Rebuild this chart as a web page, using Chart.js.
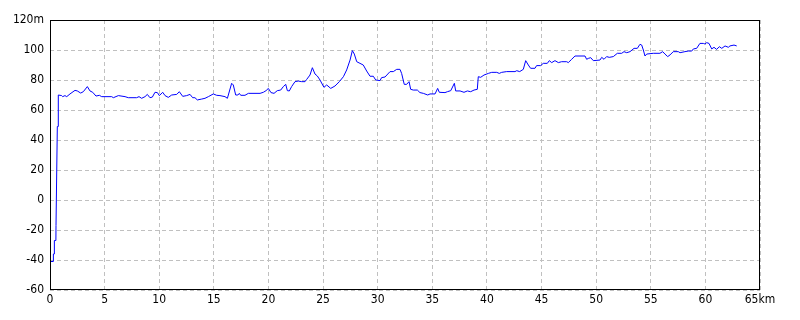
<!DOCTYPE html>
<html>
<head>
<meta charset="utf-8">
<script src="https://cdn.jsdelivr.net/npm/chart.js@4/dist/chart.umd.min.js"></script>
<style>
html,body{margin:0;padding:0;background:#fff;}
#c{display:block;}
</style>
</head>
<body>
<canvas id="c" width="800" height="320"></canvas>
<script>
// Distance along route (km)
const distanceKm = [
  0, 0.3, 0.31, 0.39, 0.4, 0.54, 0.55, 0.61, 0.67, 0.74, 0.76,
  1.07, 1.16, 1.37, 1.53, 1.83, 2.29, 2.5, 2.81, 3.05, 3.42, 3.66, 3.91, 4.21, 4.52, 4.73,
  5.65, 5.8, 6.26, 6.87, 7.17, 7.93, 8.15, 8.39, 8.7, 8.91, 9.15, 9.37, 9.61, 9.83,
  10.01, 10.32, 10.53, 10.83, 11.14, 11.6, 11.84, 12.15, 12.51, 12.82, 13.06, 13.27, 13.49, 13.89,
  14.19, 14.5, 14.95, 15.26, 15.56, 16.02, 16.24, 16.63, 16.78, 17.0, 17.2, 17.33, 17.46, 17.85,
  18.16, 19.23, 19.53, 19.78, 19.99, 20.23, 20.51, 20.81, 21.12, 21.36, 21.58, 21.73, 21.91,
  22.12, 22.43, 22.73, 23.04, 23.35, 23.5, 23.8, 24.02, 24.26, 24.47, 24.72, 25.08, 25.33,
  25.7, 26.09, 26.49, 26.86, 27.16, 27.47, 27.68, 27.86, 28.08, 28.38, 28.68, 28.99, 29.3,
  29.6, 29.82, 30.21, 30.36, 30.67, 31.13, 31.43, 31.74, 32.04, 32.19, 32.43, 32.65, 32.87,
  33.02, 33.26, 33.63, 33.87, 34.18, 34.58, 34.79, 35.25, 35.49, 35.64, 36.16, 36.38, 36.69,
  37.02, 37.14, 37.54, 37.9, 38.21, 38.51, 38.82, 39.12, 39.21, 39.43, 39.73, 40.13, 40.44,
  40.9, 41.13, 41.35, 41.81, 42.57, 42.73, 43.0, 43.33, 43.55, 43.79, 44.0, 44.4, 44.55,
  44.92, 45.16, 45.53, 45.71, 45.93, 46.23, 46.54, 46.84, 47.3, 47.45, 47.76, 48.06, 48.98,
  49.13, 49.28, 49.5, 49.74, 50.35, 50.51, 50.72, 50.96, 51.2, 51.57, 51.94, 52.34, 52.55,
  52.8, 53.1, 53.47, 53.77, 54.01, 54.17, 54.32, 54.47, 54.63, 55.23, 55.84, 56.09, 56.3,
  56.55, 56.76, 57.06, 57.52, 57.68, 58.13, 58.44, 58.75, 58.9, 59.2, 59.5, 59.81, 59.96,
  60.12, 60.33, 60.58, 60.79, 61.03, 61.28, 61.5, 61.8, 62.1, 62.25, 62.62, 62.87
];
// Elevation (m)
const elevationM = [
  -41, -41, -36, -36, -27, -27, -17, -17, 49, 49, 70,
  69.6, 68.9, 69.6, 68.9, 70.7, 73.1, 72.7, 71.3, 72.2, 75.6, 72.7, 71.8, 69.3, 69.8, 68.9,
  68.9, 68.2, 69.6, 68.9, 68.2, 68.2, 68.9, 67.8, 68.9, 70.4, 68.2, 68.6, 71.8, 71.6,
  69.6, 71.8, 69.6, 68.4, 70, 70.4, 72.2, 69.1, 69.6, 70.4, 68.2, 68.2, 66.7, 67.3,
  67.8, 68.9, 70.7, 69.8, 69.6, 68.9, 67.8, 77.8, 76.7, 70, 70, 71.1, 69.8, 69.8,
  71.1, 71.1, 71.8, 72.9, 74.4, 71.6, 71.1, 72.9, 73.3, 75.6, 77.1, 72.9, 72.7,
  75.6, 78.9, 79.3, 78.9, 78.9, 80.4, 83.3, 88.2, 84, 82.7, 80, 75.1, 76.7,
  74.4, 76, 78.9, 82.2, 86.7, 93.3, 99.6, 97.3, 92.2, 91.1, 90, 86, 82.5,
  82.5, 80, 79.6, 81.6, 82, 85.6, 85.6, 87.1, 87.1, 84.4, 77.1, 77.1, 78.9,
  73.8, 73.3, 73.3, 71.6, 71.1, 70, 70.7, 70.7, 74.4, 71.8, 71.6, 72.2, 72.9,
  77.8, 72.7, 72.7, 71.8, 72.7, 72.2, 73.3, 73.8, 82.2, 81.8, 83.3, 84.4, 85.1,
  85.1, 84.4, 85.1, 85.6, 85.6, 86.2, 85.6, 87.1, 92.9, 90, 87.8, 87.8, 89.6,
  89.6, 91.1, 91.1, 92.9, 91.6, 92.9, 91.6, 92.2, 92.2, 91.6, 93.8, 96, 96,
  93.8, 94.4, 94.9, 92.9, 93.3, 95.1, 93.8, 95.6, 95.1, 95.6, 97.8, 97.8, 98.9,
  98.2, 98.9, 101.1, 101.1, 103.8, 103.3, 100, 96, 97.3, 97.8, 97.8, 98.9, 97.3,
  95.6, 96.7, 98.9, 98.9, 98.2, 98.9, 99.3, 99.3, 100.7, 101.1, 104.4, 104.4, 104,
  104.9, 104.4, 100.7, 101.8, 100.4, 102.2, 101.1, 102.7, 101.8, 102.7, 103.3, 102.7
];
// Axis ranges and ticks
const xTicks = [0, 5, 10, 15, 20, 25, 30, 35, 40, 45, 50, 55, 60, 65];
const yTicks = [-60, -40, -20, 0, 20, 40, 60, 80, 100, 120];
const xUnit = 'km';
const yUnit = 'm';

const points = distanceKm.map((d, i) => ({x: d, y: elevationM[i]}));
const FONT = '"Liberation Sans Narrow", "DejaVu Sans Condensed", "Liberation Sans", sans-serif';

const framePlugin = {
  id: 'frame',
  afterDraw(chart) {
    const a = chart.chartArea, ctx = chart.ctx;
    ctx.save();
    ctx.strokeStyle = '#000';
    ctx.lineWidth = 1;
    ctx.strokeRect(Math.round(a.left) + 0.5, Math.round(a.top) + 0.5,
                   Math.round(a.right - a.left) - 1, Math.round(a.bottom - a.top) - 1);
    ctx.restore();
  }
};

new Chart(document.getElementById('c'), {
  type: 'line',
  data: {
    datasets: [{
      data: points,
      borderColor: '#0000ff',
      borderWidth: 1,
      pointRadius: 0,
      tension: 0,
      fill: false
    }]
  },
  options: {
    responsive: false,
    animation: false,
    devicePixelRatio: 1,
    layout: {padding: {left: 0, top: 20, right: 40, bottom: 0}},
    plugins: {legend: {display: false}, tooltip: {enabled: false}},
    scales: {
      x: {
        type: 'linear',
        min: xTicks[0], max: xTicks[xTicks.length - 1],
        afterBuildTicks: s => { s.ticks = xTicks.map(v => ({value: v})); },
        afterFit: s => { s.height = 30; },
        ticks: {
          color: '#000', padding: 3, maxRotation: 0, autoSkip: false,
          font: {family: FONT, size: 12},
          callback: v => v === xTicks[xTicks.length - 1] ? v + xUnit : String(v)
        },
        grid: {color: '#c0c0c0', lineWidth: 1, drawTicks: false},
        border: {display: false, dash: [4, 3]}
      },
      y: {
        type: 'linear',
        min: yTicks[0], max: yTicks[yTicks.length - 1],
        afterBuildTicks: s => { s.ticks = yTicks.map(v => ({value: v})); },
        afterFit: s => { s.width = 50; },
        ticks: {
          color: '#000', padding: 6, autoSkip: false,
          font: {family: FONT, size: 12},
          callback: v => v === yTicks[yTicks.length - 1] ? v + yUnit : String(v)
        },
        grid: {color: '#c0c0c0', lineWidth: 1, drawTicks: false},
        border: {display: false, dash: [4, 3]}
      }
    }
  },
  plugins: [framePlugin]
});
</script>
</body>
</html>
